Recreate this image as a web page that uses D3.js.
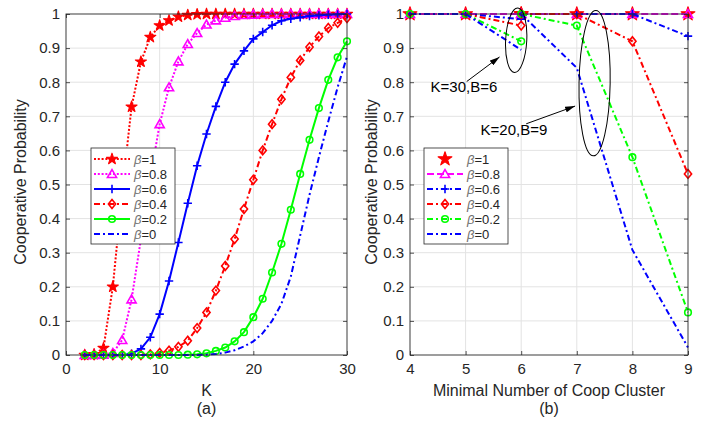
<!DOCTYPE html>
<html>
<head>
<meta charset="utf-8">
<script src="https://cdn.jsdelivr.net/npm/d3@7"></script>
<style>
  body { margin: 0; background: #fff; }
  text { font-family: "Liberation Sans", Arial, sans-serif; }
</style>
</head>
<body>
<svg id="chart" width="718" height="422"></svg>
<script>
// ---------- panel (a): cooperative probability vs K ----------
const kValues = [2, 3, 4, 5, 6, 7, 8, 9, 10, 11, 12, 13, 14, 15, 16, 17, 18, 19, 20, 21, 22, 23, 24, 25, 26, 27, 28, 29, 30];
const coopBeta1 = [0, 0.002, 0.02, 0.2, 0.48, 0.728, 0.86, 0.932, 0.966, 0.981, 0.992, 0.997, 0.999, 1, 1, 1, 1, 1, 1, 1, 1, 1, 1, 1, 1, 1, 1, 1, 1];
const coopBeta08 = [0, 0, 0.001, 0.006, 0.044, 0.163, 0.34, 0.52, 0.677, 0.785, 0.861, 0.912, 0.944, 0.969, 0.981, 0.989, 0.994, 0.997, 0.998, 0.999, 1, 1, 1, 1, 1, 1, 1, 1, 1];
const coopBeta06 = [0, 0, 0, 0, 0, 0.004, 0.018, 0.052, 0.12, 0.217, 0.33, 0.445, 0.555, 0.648, 0.729, 0.8, 0.853, 0.892, 0.927, 0.947, 0.967, 0.98, 0.986, 0.99, 0.994, 0.996, 0.998, 0.999, 1];
const coopBeta04 = [0, 0, 0, 0, 0, 0, 0, 0.002, 0.006, 0.013, 0.024, 0.042, 0.079, 0.125, 0.189, 0.261, 0.34, 0.428, 0.514, 0.6, 0.677, 0.75, 0.814, 0.864, 0.903, 0.934, 0.959, 0.974, 0.988];
const coopBeta02 = [0, 0, 0, 0, 0, 0, 0, 0, 0, 0, 0, 0.001, 0.002, 0.005, 0.012, 0.022, 0.04, 0.067, 0.111, 0.165, 0.242, 0.326, 0.426, 0.531, 0.631, 0.724, 0.807, 0.873, 0.92];
const coopBeta0 = [0, 0, 0, 0, 0, 0, 0, 0, 0, 0, 0, 0, 0, 0.001, 0.003, 0.007, 0.014, 0.025, 0.04, 0.064, 0.1, 0.15, 0.23, 0.35, 0.47, 0.58, 0.685, 0.785, 0.875];

// ---------- panel (b): cooperative probability vs minimal cluster size ----------
// two runs meet at cluster size 6 (K=30,B=6 for 4..6, K=20,B=9 for 6..9)
const clusterFirst = [4, 5, 6];
const clusterSecond = [6, 7, 8, 9];
const clusterBeta1First = [1, 1, 1];
const clusterBeta1Second = [1, 1, 1, 1];
const clusterBeta08First = [1, 1, 1];
const clusterBeta08Second = [1, 1, 1, 1];
const clusterBeta06First = [1, 1, 0.985];
const clusterBeta06Second = [1, 1, 1, 0.935];
const clusterBeta04First = [1, 1, 0.966];
const clusterBeta04Second = [1, 1, 0.92, 0.531];
const clusterBeta02First = [1, 1, 0.92];
const clusterBeta02Second = [1, 0.966, 0.58, 0.125];
const clusterBeta0First = [1, 1, 0.895];
const clusterBeta0Second = [1, 0.842, 0.308, 0.022];

// ---------- ticks and labels ----------
const probTicks = [0, 0.1, 0.2, 0.3, 0.4, 0.5, 0.6, 0.7, 0.8, 0.9, 1];
const kTicks = [0, 10, 20, 30];
const clusterTicks = [4, 5, 6, 7, 8, 9];
const betaLabels = ["1", "0.8", "0.6", "0.4", "0.2", "0"];
const noteLabels = ["K=30,B=6", "K=20,B=9"];

const svg = d3.select("#chart");
const axisColor = "#262626";
const gridColor = "#e3e3e3";
const RED = "#ff0000", MAG = "#ff00ff", BLUE = "#0000ff", GREEN = "#00ff00";
const DOT = "2,1.8", DASHDOT = "6,3,2,3", DASH = "7,3";

const xA = d3.scaleLinear().domain([0, 30]).range([66, 347]);
const xB = d3.scaleLinear().domain([4, 9]).range([410, 688]);
const y = d3.scaleLinear().domain([0, 1]).range([355, 14]);

function drawMarker(g, type, cx, cy, color, big) {
  const s = big ? 1.25 : 1;
  if (type === "star") {
    g.append("path").attr("d", d3.symbol(d3.symbolStar, 38 * s * s)())
      .attr("transform", `translate(${cx},${cy})`)
      .attr("fill", color).attr("stroke", color).attr("stroke-width", 1.1).attr("stroke-linejoin", "round");
  } else if (type === "triangle") {
    g.append("path").attr("d", d3.symbol(d3.symbolTriangle, 36)())
      .attr("transform", `translate(${cx},${cy + 0.8})`)
      .attr("fill", "none").attr("stroke", color).attr("stroke-width", 1.6);
  } else if (type === "plus") {
    const r = 4.2;
    g.append("path").attr("d", `M${cx - r},${cy}H${cx + r}M${cx},${cy - r}V${cy + r}`)
      .attr("fill", "none").attr("stroke", color).attr("stroke-width", 1.6);
  } else if (type === "diamond") {
    const w = 3.6, h = 4.4;
    g.append("path").attr("d", `M${cx},${cy - h}L${cx + w},${cy}L${cx},${cy + h}L${cx - w},${cy}Z`)
      .attr("fill", "none").attr("stroke", color).attr("stroke-width", 1.6);
  } else if (type === "circle") {
    g.append("circle").attr("cx", cx).attr("cy", cy).attr("r", 3.3)
      .attr("fill", "none").attr("stroke", color).attr("stroke-width", 1.6);
  }
}

function drawFrame(x, xTicks) {
  const g = svg.append("g");
  const [x0, x1] = x.range();
  const [y0, y1] = y.range();
  // grid
  g.append("g").selectAll("line").data(xTicks.slice(1, -1)).join("line")
    .attr("x1", d => x(d)).attr("x2", d => x(d)).attr("y1", y1).attr("y2", y0)
    .attr("stroke", gridColor).attr("stroke-width", 1);
  g.append("g").selectAll("line").data(probTicks.slice(1, -1)).join("line")
    .attr("x1", x0).attr("x2", x1).attr("y1", d => y(d)).attr("y2", d => y(d))
    .attr("stroke", gridColor).attr("stroke-width", 1);
  return g;
}

function drawAxes(x, xTicks) {
  const g = svg.append("g");
  const [x0, x1] = x.range();
  const [y0, y1] = y.range();
  const style = sel => {
    sel.select(".domain").remove();
    sel.selectAll(".tick line").attr("stroke", axisColor).attr("stroke-width", 0.8);
    sel.selectAll(".tick text").attr("fill", axisColor).style("font-size", "15px")
      .style("font-family", '"Liberation Sans", Arial, sans-serif');
  };
  g.append("g").attr("transform", `translate(0,${y0})`)
    .call(d3.axisBottom(x).tickValues(xTicks).tickFormat(d3.format("d")).tickSizeInner(-4).tickSizeOuter(0).tickPadding(8))
    .call(style);
  g.append("g").attr("transform", `translate(0,${y1})`)
    .call(d3.axisTop(x).tickValues(xTicks).tickFormat("").tickSizeInner(-4).tickSizeOuter(0))
    .call(style);
  g.append("g").attr("transform", `translate(${x0},0)`)
    .call(d3.axisLeft(y).tickValues(probTicks).tickFormat(d => d === 0 || d === 1 ? String(d) : d3.format(".1f")(d)).tickSizeInner(-4).tickSizeOuter(0).tickPadding(6))
    .call(style);
  g.append("g").attr("transform", `translate(${x1},0)`)
    .call(d3.axisRight(y).tickValues(probTicks).tickFormat("").tickSizeInner(-4).tickSizeOuter(0))
    .call(style);
  g.append("rect").attr("x", x0).attr("y", y1).attr("width", x1 - x0).attr("height", y0 - y1)
    .attr("fill", "none").attr("stroke", axisColor).attr("stroke-width", 0.9);
}

function drawSeries(g, x, xs, ys, st, big) {
  if (st.dash !== null) {
    g.append("path").datum(xs.map((v, i) => [v, ys[i]]))
      .attr("d", d3.line().x(d => x(d[0])).y(d => y(d[1])))
      .attr("fill", "none").attr("stroke", st.color).attr("stroke-width", 2)
      .attr("stroke-dasharray", st.dash === "" ? null : st.dash);
  }
  if (st.marker) xs.forEach((v, i) => drawMarker(g, st.marker, x(v), y(ys[i]), st.color, big));
}

function drawLegend(lx, ly, styles, big) {
  const g = svg.append("g");
  const w = 84, h = 96;
  g.append("rect").attr("x", lx).attr("y", ly).attr("width", w).attr("height", h)
    .attr("fill", "#fff").attr("stroke", axisColor).attr("stroke-width", 0.8);
  styles.forEach((st, i) => {
    const ry = ly + 11 + i * 15;
    if (st.dash !== null) {
      g.append("line").attr("x1", lx + 3).attr("x2", lx + 39).attr("y1", ry).attr("y2", ry)
        .attr("stroke", st.color).attr("stroke-width", 2)
        .attr("stroke-dasharray", st.dash === "" ? null : st.dash);
    }
    if (st.marker) drawMarker(g, st.marker, lx + 21, ry, st.color, big);
    const t = g.append("text").attr("x", lx + 43).attr("y", ry + 4.7).style("font-size", "13px");
    t.append("tspan").text("β").attr("fill", "#6e6e6e").style("font-style", "italic");
    t.append("tspan").text("=" + betaLabels[i]).attr("fill", axisColor);
  });
}

function axisLabels(x, xLabel, tag, yLabelX) {
  const cx = (x.range()[0] + x.range()[1]) / 2;
  svg.append("text").attr("x", cx).attr("y", 396).attr("text-anchor", "middle")
    .style("font-size", "16px").attr("fill", axisColor).text(xLabel);
  svg.append("text").attr("x", cx).attr("y", 414).attr("text-anchor", "middle")
    .style("font-size", "16px").attr("fill", axisColor).text(tag);
  svg.append("text").attr("transform", `translate(${yLabelX},182) rotate(-90)`).attr("text-anchor", "middle")
    .style("font-size", "16px").attr("fill", axisColor).text("Cooperative Probability");
}

// ---------- panel (a) ----------
const stylesA = [
  { color: RED, dash: DOT, marker: "star" },
  { color: MAG, dash: DOT, marker: "triangle" },
  { color: BLUE, dash: "", marker: "plus" },
  { color: RED, dash: DASHDOT, marker: "diamond" },
  { color: GREEN, dash: "", marker: "circle" },
  { color: BLUE, dash: DASHDOT, marker: null }
];
const seriesA = [coopBeta1, coopBeta08, coopBeta06, coopBeta04, coopBeta02, coopBeta0];
drawFrame(xA, kTicks);
const gA = svg.append("g");
seriesA.forEach((ys, i) => drawSeries(gA, xA, kValues, ys, stylesA[i], false));
drawAxes(xA, kTicks);
drawLegend(91, 148, stylesA, false);
axisLabels(xA, "K", "(a)", 26);

// ---------- panel (b) ----------
const stylesB = [
  { color: RED, dash: null, marker: "star" },
  { color: MAG, dash: DASH, marker: "triangle" },
  { color: BLUE, dash: DASHDOT, marker: "plus" },
  { color: RED, dash: DASHDOT, marker: "diamond" },
  { color: GREEN, dash: DASHDOT, marker: "circle" },
  { color: BLUE, dash: DASHDOT, marker: null }
];
const seriesB = [
  [clusterBeta1First, clusterBeta1Second],
  [clusterBeta08First, clusterBeta08Second],
  [clusterBeta06First, clusterBeta06Second],
  [clusterBeta04First, clusterBeta04Second],
  [clusterBeta02First, clusterBeta02Second],
  [clusterBeta0First, clusterBeta0Second]
];
drawFrame(xB, clusterTicks);
const gB = svg.append("g");
seriesB.forEach((pair, i) => {
  drawSeries(gB, xB, clusterFirst, pair[0], stylesB[i], true);
  drawSeries(gB, xB, clusterSecond, pair[1], stylesB[i], true);
});
drawAxes(xB, clusterTicks);
drawLegend(424, 148, stylesB, true);
axisLabels(xB, "Minimal Number of Coop Cluster", "(b)", 377);

// annotations: ellipses around the drops and arrows with run parameters
const notes = svg.append("g");
const defs = svg.append("defs");
defs.append("marker").attr("id", "head").attr("viewBox", "0 0 10 6").attr("refX", 10).attr("refY", 3)
  .attr("markerWidth", 10).attr("markerHeight", 6).attr("markerUnits", "userSpaceOnUse").attr("orient", "auto")
  .append("path").attr("d", "M0,0L10,3L0,6Z").attr("fill", "#000");

function ellipseAt(cx, cy, rxData, ryData, rot) {
  const px = xB(cx), py = y(cy);
  notes.append("ellipse").attr("cx", 0).attr("cy", 0)
    .attr("rx", xB(cx + rxData) - px).attr("ry", py - y(cy + ryData))
    .attr("transform", `translate(${px},${py}) rotate(${rot})`)
    .attr("fill", "none").attr("stroke", "#000").attr("stroke-width", 1);
}
function arrow(x0, y0, x1, y1) {
  notes.append("line").attr("x1", xB(x0)).attr("y1", y(y0)).attr("x2", xB(x1)).attr("y2", y(y1))
    .attr("stroke", "#000").attr("stroke-width", 1).attr("marker-end", "url(#head)");
}
ellipseAt(5.91, 0.923, 0.19, 0.0945, 3);
ellipseAt(7.32, 0.797, 0.28, 0.213, 1);
arrow(5.02, 0.802, 5.61, 0.874);
arrow(6.09, 0.678, 6.97, 0.73);
notes.append("text").attr("x", xB(4.97)).attr("y", y(0.77)).attr("text-anchor", "middle")
  .style("font-size", "15px").attr("fill", "#000").text(noteLabels[0]);
notes.append("text").attr("x", xB(5.87)).attr("y", y(0.645)).attr("text-anchor", "middle")
  .style("font-size", "15px").attr("fill", "#000").text(noteLabels[1]);
</script>
</body>
</html>
